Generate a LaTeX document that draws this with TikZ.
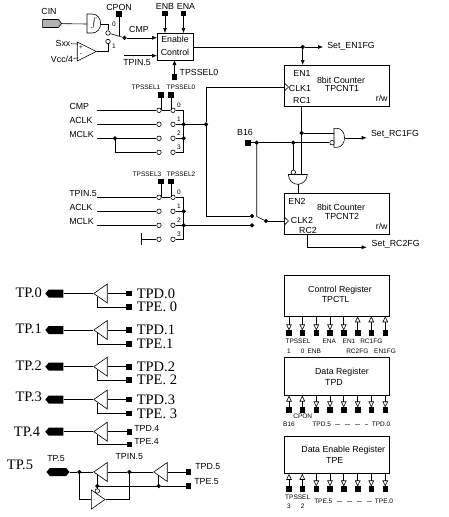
\documentclass[tikz,border=0pt]{standalone}
\usepackage{fontspec}
\setmainfont{Liberation Sans}
\newfontfamily\tpfont{Liberation Serif}
\usetikzlibrary{arrows.meta,shapes.geometric,shapes.symbols,calc}

\begin{document}
\begin{tikzpicture}[x=1pt,y=-1pt,line width=0.6pt,
lab/.style={inner sep=0pt, font=\fontsize{8.8}{10}\selectfont},
smalllab/.style={inner sep=0pt, font=\fontsize{6.5}{8}\selectfont},
tplab/.style={inner sep=0pt, font=\fontsize{14.5}{16}\selectfont\tpfont},
block/.style={draw, minimum width=105.5pt, inner sep=0pt},
pad/.style={draw, fill=black, inner sep=0pt, minimum size=4.5pt},
dot/.style={draw, fill=black, circle, inner sep=0pt, minimum size=3.6pt},
contact/.style={draw, fill=white, circle, inner sep=0pt, minimum size=4.5pt},
buf/.style={draw, fill=white, isosceles triangle, isosceles triangle stretches, inner sep=0pt, minimum width=19pt, minimum height=13.5pt, anchor=apex},
tppad/.style={signal, signal to=west, signal pointer angle=100, fill=black, inner sep=0pt, minimum width=18pt, minimum height=8pt},
arrow/.style={-{Latex[length=5pt,width=4pt]}},
regout/.style={-{Triangle[open,length=6pt,width=5.5pt]}},
regin/.style={{Triangle[open,length=6pt,width=5.5pt]}-},
gapdash/.style={gray, dash pattern=on 5pt off 5pt, shorten <=4pt, shorten >=3pt}
]
\useasboundingbox (0,0) rectangle (449,517);

% comparator input
\node[lab] (cin) at (49,11) {CIN};
\node[signal, signal to=east, signal pointer angle=100, draw, fill=gray!60, inner sep=0pt, minimum width=19pt, minimum height=8pt] (cinpad) at (50.5,23.5) {};
\coordinate (gi) at (87,24);
\coordinate (go) at (101,24);
\draw (87,14) -- (92,14) .. controls (103.5,14) and (103.5,33) .. (92,33) -- (87,33) -- cycle;
\node[lab] (schmitt) at (94,23.5) {$\int$};
\draw (cinpad) -- (gi);
\node[contact] (sw0) at (108,33) {};
\node[contact] (sw1) at (108,41.5) {};
\node[smalllab] (sw0l) at (114,24) {0};
\node[smalllab] (sw1l) at (114,46) {1};
\node[dot] (swd) at (124.5,37.8) {};
\draw (go) -| (sw0);
\draw (sw0) -- (swd);
\node[lab] (cpon) at (119,7) {CPON};
\node[pad] (cponp) at (119,14) {};
\draw (cponp) -- (119,36) coordinate (cpone);
\node[buf, minimum height=19pt] (cmp) at (97,51.5) {};
\node[lab] (sxx) at (63,43.5) {Sxx};
\node[lab] (vcc) at (62,59) {Vcc/4};
\node[smalllab] (plus) at (81,48) {+};
\node[smalllab] (minus) at (81,55) {-};
\coordinate (cmpp) at (78,44);
\coordinate (cmpm) at (78,58);
\draw (sxx) -- (cmpp);
\draw (vcc) -- (cmpm);
\draw (cmp.apex) -| (sw1);

% enable control
\node[block, minimum width=36pt, minimum height=27pt] (en) at (175,46.5) {};
\node[lab] (entxt) at (175,39) {Enable};
\node[lab] (ctxt) at (175,52.5) {Control};
\node[lab] (cmpl) at (139,29) {CMP};
\draw[arrow] (swd) -- (157,37.8);
\node[lab] (enb) at (165,6) {ENB};
\node[lab] (ena) at (186,6) {ENA};
\node[pad] (enbp) at (165,13.5) {};
\node[pad] (enap) at (183.5,13.5) {};
\draw[arrow] (enbp) -- (165,33);
\draw[arrow] (enap) -- (183.5,33);
\coordinate (tpini) at (124,55.7);
\draw[arrow] (tpini) -- (157,55.7);
\node[lab] (tpinl) at (137,63) {TPIN.5};
\node[pad] (selp) at (174.5,77) {};
\draw[arrow] (selp) -- (174.5,60);
\node[lab] (sell) at (199,72.5) {TPSSEL0};

% counters
\node[block, minimum height=41.3pt] (cnt1) at (337,85.7) {};
\node[block, minimum height=41pt] (cnt2) at (337,213.8) {};
\node[lab] (en1t) at (302,73) {EN1};
\node[lab] (cnt1t) at (341,80) {8bit Counter};
\node[lab] (cnt1n) at (342,88.8) {TPCNT1};
\node[lab] (clk1t) at (300,88.8) {CLK1};
\node[lab] (rc1t) at (302,100) {RC1};
\node[lab] (rw1) at (381.7,98) {r/w};
\node[lab] (en2t) at (297,201) {EN2};
\node[lab] (cnt2t) at (341,207.7) {8bit Counter};
\node[lab] (cnt2n) at (342,216.7) {TPCNT2};
\node[lab] (clk2t) at (302,220.5) {CLK2};
\node[lab] (rc2t) at (308,230) {RC2};
\node[lab] (rw2) at (381.7,226) {r/w};
\draw (284.3,83) -- (288.5,87) -- (284.3,91);
\draw (284.3,217) -- (288.5,221) -- (284.3,225);
\node[dot] (end) at (302.7,47) {};
\node[lab] (enfg) at (351,46) {Set\_EN1FG};
\draw (en.east |- end) -- (end);
\draw[arrow] (end) -- (323,47);
\draw[arrow] (end) -- (302.7,65);

% clock select 1 and 2
\foreach \m/\n/\t in {a/b/110.3,c/d/197.3}{
  \foreach \r in {0,1,2,3}{
    \node[contact] (\m\r) at (159,\t+14*\r) {};
    \node[contact] (\n\r) at (173,\t+14*\r) {};
    \node[smalllab] (\m l\r) at (179,\t+14*\r-5) {\r};
    \coordinate (\m w\r) at (96.5,\t+14*\r);
    \coordinate (\m b\r) at (183.7,\t+14*\r);
  }
  \draw (\m0) -- (\n0);
  \draw (\n0) -- (\m b0) -- (\m b3) -- (\n3);
  \draw (\n1) -- (\m b1);
  \draw (\n2) -- (\m b2);
  \node[dot] at (\m b1) {};
  \node[dot] at (\m b2) {};
}
\node[lab] (cmpt) at (79.3,106.5) {CMP};
\node[lab] (acka) at (81,120) {ACLK};
\node[lab] (mcka) at (81.5,134) {MCLK};
\node[lab] (tpt) at (83,194) {TPIN.5};
\node[lab] (ackc) at (81,207) {ACLK};
\node[lab] (mckc) at (81.5,221) {MCLK};
\draw (aw0) -- (a0);
\draw (aw1) -- (a1);
\draw (aw2) -- (a2);
\draw (cw0) -- (c0);
\draw (cw1) -- (c1);
\draw (cw2) -- (c2);
\node[dot] (mdot) at (115,138.3) {};
\draw (mdot) |- (a3);
\coordinate (gndt) at (141.7,232.7);
\coordinate (gndb) at (141.7,245);
\coordinate (gndm) at (141.7,239.3);
\draw[line width=1pt] (gndt) -- (gndb);
\draw (gndm) -- (c3);
\node[smalllab] (s1) at (146,87) {TPSSEL1};
\node[smalllab] (s0) at (181,87) {TPSSEL0};
\node[smalllab] (s3) at (147,174) {TPSSEL3};
\node[smalllab] (s2) at (181,174) {TPSSEL2};
\node[pad] (s1p) at (161,95) {};
\node[pad] (s0p) at (171,95) {};
\node[pad] (s3p) at (161,181.5) {};
\node[pad] (s2p) at (171,181.5) {};
\draw (s1p) -- (s1p |- a0);
\draw (s0p) -- (s0p |- a0);
\draw (s3p) -- (s3p |- c0);
\draw (s2p) -- (s2p |- c0);

% clock mux towards counter 2
\node[dot] (cka) at (206,124.3) {};
\node[dot] (m1) at (252,216) {};
\node[dot] (m2) at (252,225.3) {};
\node[dot] (mo) at (266,221) {};
\node[lab] (b16) at (245,132.7) {B16};
\node[pad] (b16p) at (248,142.7) {};
\node[dot] (b16d) at (256.7,142.7) {};
\coordinate (muxp) at (256.7,216.5);
\coordinate (ck1t) at (206,87);
\draw (ab1) -- (cka);
\draw (ck1t) -- (cka);
\draw (ck1t) -- (cnt1.west |- ck1t);
\draw (cka) |- (m1);
\draw (cb2) -- (m2);
\draw (b16p) -- (b16d);
\draw (b16d) -- (muxp) -- (mo);
\draw (mo) -- (cnt2.west |- mo);

% RC gates
\node[dot] (rcd) at (301.7,133) {};
\node[dot] (bd) at (293.3,142.7) {};
\draw (334,128.3) -- (337,128.3) .. controls (347,128.3) and (347,147.3) .. (337,147.3) -- (334,147.3) -- cycle;
\node[contact] (bub) at (332,142.7) {};
\node[lab] (rc1fg) at (395,134) {Set\_RC1FG};
\coordinate (ando) at (344.5,137.8);
\draw[arrow] (ando) -- (366.7,137.8);
\draw (b16d) -- (bd);
\draw (bd) -- (bub);
\draw (rcd |- cnt1.south) -- (rcd);
\draw (rcd) -- (334,133);
\draw (288.3,174.5) -- (307.3,174.5) .. controls (307,181) and (302,184.3) .. (297.8,184.3) coordinate (nando) .. controls (293.5,184.3) and (288.6,181) .. (288.3,174.5) -- cycle;
\node[contact] (bub2) at (293.3,172.3) {};
\draw (bd) -- (bub2);
\draw (rcd) -- (301.7,174.5);
\draw (nando) -- (nando |- cnt2.north);
\coordinate (rc2) at (307.3,234.3);
\coordinate (rc2e) at (366.7,247.3);
\draw[arrow] (rc2) |- (rc2e);
\node[lab] (rc2fg) at (395.7,244.5) {Set\_RC2FG};

% port pins
\foreach \n/\y/\e/\l/\d/\x in {0/293.5/307/293/TPE. 0/28.7,1/330/344/329/TPE.1/28.7,2/366.7/380/366/TPE. 2/28.7,3/399.5/413.3/397/TPE. 3/28.7}{
  \node[tppad] (tp\n) at (56,\y) {};
  \node[tplab] (tpl\n) at (\x,\l) {TP.\n};
  \node[buf] (bf\n) at (93,\y) [shape border rotate=180] {};
  \node[pad] (pd\n) at (129,\y) {};
  \node[pad] (pe\n) at (129,\e) {};
  \node[tplab, anchor=west] (tdl\n) at (136.5,\y) {TPD.\n};
  \node[tplab, anchor=west] (tel\n) at (136.5,\e) {\d};
  \coordinate (be\n) at (97,\y+3);
  \draw (tp\n) -- (bf\n.apex);
  \draw (bf\n.lower side) -- (pd\n);
  \draw (be\n) |- (pe\n);
}
\node[tppad] (tp4) at (56,431.7) {};
\node[tplab] (tpl4) at (27,431.5) {TP.4};
\node[buf, shape border rotate=180] (bf4) at (93,431.7) {};
\node[pad] (pd4) at (129.3,431.7) {};
\node[pad] (pe4) at (129.3,444.3) {};
\node[lab, anchor=west] (tdl4) at (134,428) {TPD.4};
\node[lab, anchor=west] (tel4) at (134,441) {TPE.4};
\coordinate (be4) at (97,434.7);
\draw (tp4) -- (bf4.apex);
\draw (bf4.lower side) -- (pd4);
\draw (be4) |- (pe4);

% TP.5 with input path
\node[signal, signal to=west and east, signal pointer angle=100, fill=black, inner sep=0pt, minimum width=23pt, minimum height=8pt] (tp5) at (58,472) {};
\node[tplab] (tpl5) at (20,465) {TP.5};
\node[lab] (tps5) at (56,459) {TP.5};
\node[lab] (tpi5) at (129.3,456.7) {TPIN.5};
\node[dot] (pd) at (79.3,472) {};
\node[dot] (pi) at (129.3,472) {};
\node[dot] (ed1) at (97.3,486) {};
\node[dot] (ed2) at (158.7,486) {};
\node[buf] (bf5) at (93,472) [shape border rotate=180] {};
\node[buf] (bf6) at (153,472) [shape border rotate=180] {};
\node[buf] (bfi) at (105.7,499.5) {};
\node[pad] (pd5) at (188.3,472) {};
\node[pad] (pe5) at (188.3,486) {};
\node[lab, anchor=west] (tdl5) at (195,467) {TPD.5};
\node[lab, anchor=west] (tel5) at (194,482) {TPE.5};
\node[contact] (bub3) at (97.3,491) {};
\draw (tp5) -- (pd);
\draw (pd) -- (bf5.apex);
\draw (bf5.lower side) -- (pi);
\draw (pi) -- (bf6.apex);
\draw (bf6.lower side) -- (pd5);
\draw (ed1) -- (ed2);
\draw (ed2) -- (pe5);
\draw (ed1) -- (97.3,475);
\draw (ed2) -- (158.7,475);
\draw (ed1) -- (bub3);
\draw (pd) |- (bfi.lower side);
\draw (bfi.apex) -| (pi);

% registers
\node[block, minimum height=41pt] (rc) at (337,295.5) {};
\node[block, minimum height=37.5pt] (rd) at (337,376.5) {};
\node[block, minimum height=37.5pt] (re) at (337,454.7) {};
\node[lab] (rct) at (340,290) {Control Register};
\node[lab] (rcn) at (335.7,299.5) {TPCTL};
\node[lab] (rdt) at (342,372.7) {Data Register};
\node[lab] (rdn) at (334,382) {TPD};
\node[lab] (ret) at (343.3,450) {Data Enable Register};
\node[lab] (ren) at (334.7,460) {TPE};
\foreach \i/\x/\a/\b/\c in {1/289/regout/regin/regin,2/302.3/regout/regin/regin,3/316.3/regout/regout/regout,4/330/regout/regout/regout,5/343.7/regout/regout/regout,6/357.7/regin/regout/regout,7/371.3/regin/regout/regout,8/385.3/regin/regout/regout}{
  \node[pad] (pc\i) at (\x,333) {};
  \node[pad] (pr\i) at (\x,410) {};
  \node[pad] (pn\i) at (\x,489) {};
  \draw[\a] (pc\i |- rc.south) -- (pc\i);
  \draw[\b] (pr\i |- rd.south) -- (pr\i);
  \draw[\c] (pn\i |- re.south) -- (pn\i);
}
\node[smalllab] (l1) at (298,341) {TPSSEL};
\node[smalllab] (l2) at (329.3,341) {ENA};
\node[smalllab] (l3) at (349,341) {EN1};
\node[smalllab] (l4) at (371.3,341) {RC1FG};
\node[smalllab] (l5) at (289,351) {1};
\node[smalllab] (l6) at (302.7,351) {0};
\node[smalllab] (l7) at (314.3,351) {ENB};
\node[smalllab] (l8) at (357.3,351) {RC2FG};
\node[smalllab] (l9) at (385,351) {EN1FG};
\node[smalllab] (d1) at (302.7,416) {CPON};
\node[smalllab] (d2) at (289,424.3) {B16};
\node[smalllab] (d3) at (321.7,424.3) {TPD.5};
\node[smalllab] (d4) at (381,424.3) {TPD.0};
\draw[gapdash] (d3) -- (d4);
\node[smalllab] (e1) at (297.7,497) {TPSSEL};
\node[smalllab] (e2) at (289,506.7) {3};
\node[smalllab] (e3) at (302.7,506.7) {2};
\node[smalllab] (e4) at (323.3,501.7) {TPE.5};
\node[smalllab] (e5) at (384,501.7) {TPE.0};
\draw[gapdash] (e4) -- (e5);
\end{tikzpicture}
\end{document}
